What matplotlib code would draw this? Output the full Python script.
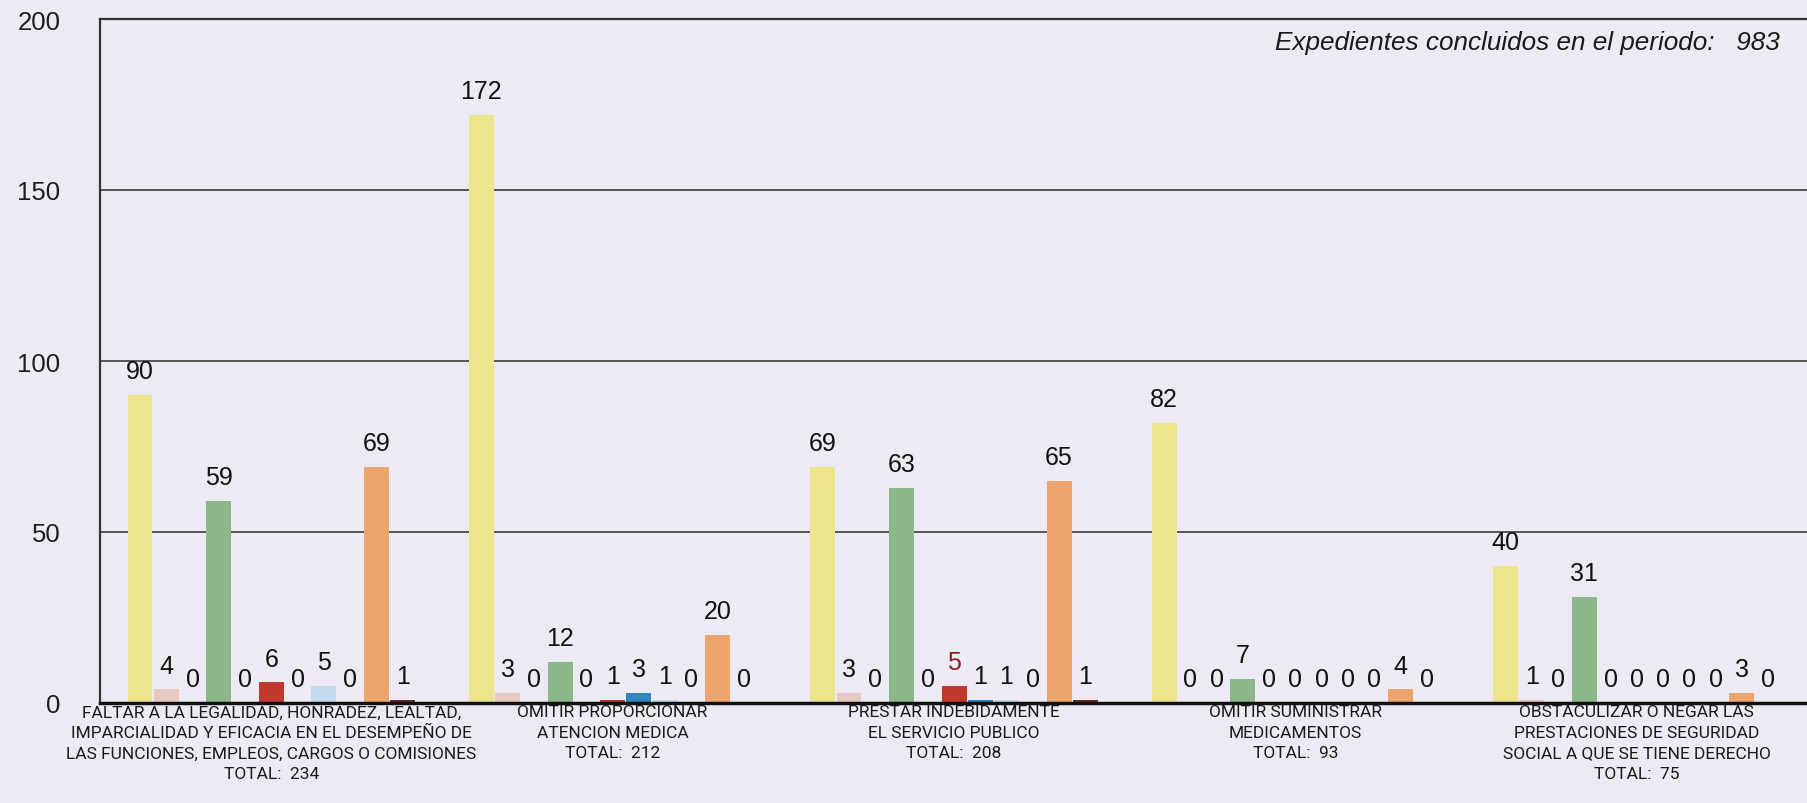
import numpy as np
import matplotlib.pyplot as plt
import matplotlib.transforms as mtransforms
from matplotlib import font_manager

plt.rcParams['font.family'] = ['Liberation Sans', 'DejaVu Sans']

groups = [
    "FALTAR A LA LEGALIDAD, HONRADEZ, LEALTAD,\nIMPARCIALIDAD Y EFICACIA EN EL DESEMPEÑO DE\nLAS FUNCIONES, EMPLEOS, CARGOS O COMISIONES",
    "OMITIR PROPORCIONAR\nATENCION MEDICA",
    "PRESTAR INDEBIDAMENTE\nEL SERVICIO PUBLICO",
    "OMITIR SUMINISTRAR\nMEDICAMENTOS",
    "OBSTACULIZAR O NEGAR LAS\nPRESTACIONES DE SEGURIDAD\nSOCIAL A QUE SE TIENE DERECHO",
]
totals = [234, 212, 208, 93, 75]
total_period = 983

# one list per series, same order inside every group
s01 = [90, 172, 69, 82, 40]
s02 = [4, 3, 3, 0, 1]
s03 = [0, 0, 0, 0, 0]
s04 = [59, 12, 63, 7, 31]
s05 = [0, 0, 0, 0, 0]
s06 = [6, 1, 5, 0, 0]
s07 = [0, 3, 1, 0, 0]
s08 = [5, 1, 1, 0, 0]
s09 = [0, 0, 0, 0, 0]
s10 = [69, 20, 65, 4, 3]
s11 = [1, 0, 1, 0, 0]
series = [s01, s02, s03, s04, s05, s06, s07, s08, s09, s10, s11]

colors = ['#ECE58C', '#E9C9C4', '#D9D2E6', '#8BB78B', '#C9D9C0', '#BF3A2C',
          '#2F86BC', '#C3DBEC', '#D8C8A8', '#EDA56E', '#6E2B2B']

bg = '#EEEAF3'
avail = {f.name for f in font_manager.fontManager.ttflist}
narrow = 'Liberation Sans Narrow' if 'Liberation Sans Narrow' in avail else 'Roboto'

fig = plt.figure(figsize=(18.08, 8.04), dpi=100, facecolor=bg)
ax = fig.add_axes([100 / 1808, 1 - 704 / 804, 1 - 100 / 1808, (704 - 20) / 804])
ax.set_facecolor(bg)

stride = len(series) + 2
base = np.arange(len(groups)) * stride
for i, (vals, col) in enumerate(zip(series, colors)):
    x = base + i
    ax.bar(x, vals, width=0.95, color=col, zorder=2)
    for xi, v in zip(x, vals):
        lc = '#8B2020' if (i == 5 and v == 5) else '#111111'
        ax.annotate(str(v), (xi, v), xytext=(0, 8.5), textcoords='offset points',
                    ha='center', va='bottom', fontsize=18, color=lc, zorder=3)

ax.set_xlim(-1.523, 63.52)
ax.set_ylim(0, 200)
ax.set_yticks([0, 50, 100, 150, 200])
ax.set_xticks([])
ax.tick_params(axis='y', length=0, pad=28.5, labelsize=18.5, labelcolor='#1e1e1e')
ax.yaxis.grid(True, color='#4a4a4a', lw=1.3)
ax.set_axisbelow(True)

ax.spines['right'].set_visible(False)
ax.spines['top'].set_color('#333333')
ax.spines['top'].set_linewidth(1.6)
ax.spines['left'].set_color('#333333')
ax.spines['left'].set_linewidth(1.6)
ax.spines['bottom'].set_color('#111111')
ax.spines['bottom'].set_linewidth(2.5)

# category labels under each group, width matched to the reference
fig.canvas.draw()
renderer = fig.canvas.get_renderer()
probe = fig.text(0, 0, "LAS FUNCIONES, EMPLEOS, CARGOS O COMISIONES",
                 family=narrow, fontsize=12)
w = probe.get_window_extent(renderer).width
probe.remove()
label_size = 12 * 410 / w

trans = mtransforms.blended_transform_factory(ax.transData, ax.transAxes)
for g, (name, tot) in enumerate(zip(groups, totals)):
    ax.text(base[g] + 5, -0.002, f"{name}\nTOTAL:  {tot}", transform=trans,
            ha='center', va='top', fontsize=label_size, family=narrow,
            linespacing=1.45, color='#1a1a1a')

ax.text((1780 - 100) / 1708, 0.966, f"Expedientes concluidos en el periodo:   {total_period}",
        transform=ax.transAxes, ha='right', va='center', style='italic',
        fontsize=18.8, color='#1a1a1a')

fig.savefig('out.png', dpi=100, facecolor=bg)
